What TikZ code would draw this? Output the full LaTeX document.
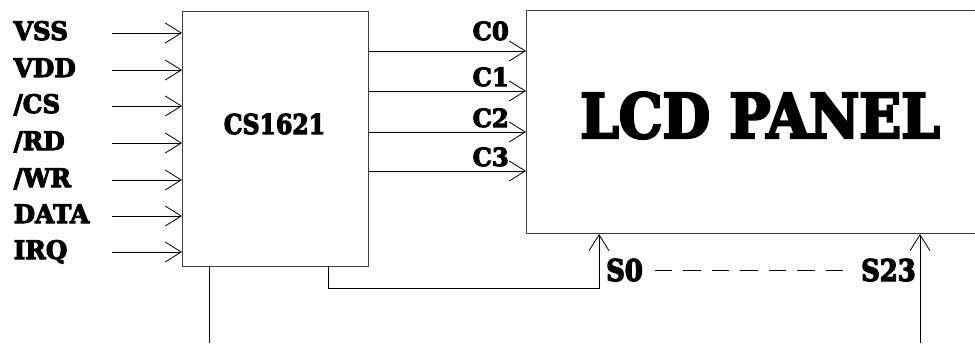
\documentclass[tikz,border=0pt]{standalone}
\usepackage{fontspec}
\setmainfont{DejaVu Serif}
\newfontfamily\hvy[FakeBold=4,FakeStretch=0.97]{DejaVu Serif Bold}
\newfontfamily\hvychip[FakeBold=4,FakeStretch=0.86]{DejaVu Serif Bold}
\newfontfamily\hvyseg[FakeBold=4,FakeStretch=0.86]{DejaVu Serif Bold}
\newfontfamily\hvypanel[FakeBold=4,FakeStretch=0.89]{DejaVu Serif Bold}
\usetikzlibrary{arrows.meta,calc}
\tikzset{
  wire/.style={draw=black, line width=0.9pt},
  sig/.style={wire, -{Straight Barb[length=16pt,width=20pt,line width=0.8pt]}},
  lbl/.style={inner sep=0pt, font=\hvy\fontsize{25.5}{27}\selectfont},
  clbl/.style={inner sep=0pt, font=\hvy\fontsize{25}{27}\selectfont},
  slbl/.style={inner sep=0pt, font=\hvyseg\fontsize{30}{32}\selectfont},
  chiplbl/.style={inner sep=0pt, font=\hvychip\fontsize{27.4}{30}\selectfont},
  paneltxt/.style={inner sep=0pt, font=\hvypanel\fontsize{61.7}{64}\selectfont},
  blk/.style={draw=black!75, line width=1pt, inner sep=0pt},
}
\begin{document}
\begin{tikzpicture}[x=1pt,y=-1pt]
\useasboundingbox (0,0) rectangle (975,343);
% blocks
\node[blk, anchor=north west, minimum width=186pt, minimum height=255.5pt] (chip) at (182,10.5) {};
\node[blk, anchor=north west, minimum width=470pt, minimum height=223.5pt] (lcd) at (526,9.5) {};
\node[chiplbl, anchor=base] (chipname) at (274.5,134) {CS1621};
\node[paneltxt, anchor=base] (panelname) at (760,138) {LCD PANEL};
% inputs
\foreach \n/\t/\y in {vss/VSS/33, vdd/VDD/70, cs/{/CS}/106, rd/{/RD}/143, wr/{/WR}/180, data/DATA/216, irq/IRQ/252}{
  \node[lbl, anchor=base west] (\n) at (13.5,\y+7) {\t};
  \coordinate (\n src) at (112,\y);
  \draw[sig] (\n src) -- (\n src -| chip.west);
}
% outputs C0..C3
\foreach \n/\y/\b in {0/51/40, 1/91/86, 2/132/127, 3/171/166}{
  \node[clbl, anchor=base east] (c\n) at (509,\b) {C\n};
  \coordinate (cy\n) at (0,\y);
  \draw[sig] (chip.east |- cy\n) -- (lcd.west |- cy\n);
}
% bottom connections
\coordinate (gnd) at (209,343);
\draw[wire] (chip.south -| gnd) -- (gnd);
\coordinate (seg) at (599,288);
\draw[sig] (chip.south -| 328,0) -- (328,288) -- (seg) -- (lcd.south -| seg);
\coordinate (s23src) at (920,343);
\draw[sig] (s23src) -- (lcd.south -| s23src);
% segment labels
\node[slbl, anchor=base west] (s0) at (606,281) {S0};
\node[slbl, anchor=base west] (s23) at (861,281) {S23};
\draw[line width=0.9pt, dash pattern=on 17.5pt off 11pt] ([shift={(12,-11)}]s0.base east) -- ([shift={(-18,-11)}]s23.base west);
\end{tikzpicture}
\end{document}
